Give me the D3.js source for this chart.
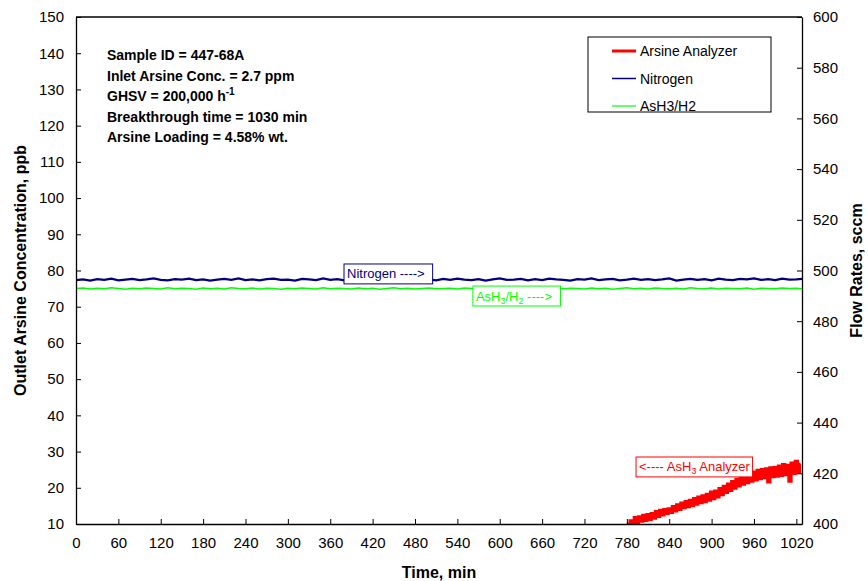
<!DOCTYPE html>
<html lang="en">
<head>
<meta charset="UTF-8">
<title>Arsine breakthrough</title>
<script src="https://d3js.org/d3.v7.min.js"></script>
<style>
  body { margin: 0; background: #fff; }
  svg text { font-family: "Liberation Sans", Arial, sans-serif; }
</style>
</head>
<body>
<div id="chart"></div>
<script>
// ---- data ----
const xTicks = [0, 60, 120, 180, 240, 300, 360, 420, 480, 540, 600, 660, 720, 780, 840, 900, 960, 1020];
const leftTicks = [10, 20, 30, 40, 50, 60, 70, 80, 90, 100, 110, 120, 130, 140, 150];
const rightTicks = [400, 420, 440, 460, 480, 500, 520, 540, 560, 580, 600];

// flow series sampled every 10 min (last point at 1028 min)
const flowStart = 0, flowStep = 10;
const nitrogen = [
  496.2, 496.5, 496.0, 496.6, 496.3, 496.8, 496.1, 496.4, 496.7, 496.2,
  496.5, 496.9, 496.3, 496.1, 496.6, 496.4, 496.8, 496.2, 496.5, 496.0,
  496.4, 496.7, 496.3, 496.9, 496.2, 496.5, 496.1, 496.6, 496.8, 496.3,
  496.4, 496.0, 496.7, 496.5, 496.2, 496.9, 496.3, 496.6, 496.1, 496.4,
  496.8, 496.2, 496.5, 496.3, 496.7, 496.0, 496.4, 496.6, 496.9, 496.2,
  496.5, 496.1, 496.7, 496.3, 496.8, 496.4, 496.2, 496.6, 496.0, 496.5,
  496.9, 496.3, 496.4, 496.7, 496.1, 496.6, 496.2, 496.8, 496.5, 496.3,
  496.0, 496.6, 496.4, 496.9, 496.2, 496.5, 496.7, 496.1, 496.4, 496.8,
  496.3, 496.6, 496.2, 496.5, 496.9, 496.0, 496.4, 496.7, 496.3, 496.6,
  496.1, 496.8, 496.4, 496.2, 496.7, 496.5, 496.9, 496.3, 496.6, 496.2,
  496.8, 496.4, 496.5, 496.7
];
const ash3h2 = [
  492.9, 493.1, 492.7, 493.0, 492.8, 493.2, 492.9, 492.6, 493.0, 492.8,
  493.1, 492.9, 492.7, 493.2, 492.8, 493.0, 492.9, 492.6, 493.1, 492.8,
  493.0, 492.7, 493.2, 492.9, 492.8, 493.1, 492.7, 493.0, 492.9, 492.6,
  493.0, 492.8, 493.1, 492.9, 492.7, 493.2, 492.8, 493.0, 492.9, 492.7,
  493.1, 492.8, 493.0, 492.6, 492.9, 493.2, 492.8, 493.0, 492.7, 492.9,
  493.1, 492.8, 492.9, 493.0, 492.7, 493.1, 492.9, 492.8, 493.2, 492.7,
  493.0, 492.9, 492.6, 493.1, 492.8, 493.0, 492.9, 492.7, 493.2, 492.8,
  493.0, 492.9, 492.7, 493.1, 492.8, 493.0, 492.6, 492.9, 493.2, 492.8,
  493.0, 492.7, 493.1, 492.9, 492.8, 493.0, 492.7, 493.2, 492.9, 492.8,
  493.1, 492.7, 493.0, 492.9, 492.8, 493.1, 492.6, 493.0, 492.9, 492.8,
  493.1, 492.9, 493.0, 492.8
];

// arsine analyzer (ppb) every 3 min from 780 min
const arsineStart = 780, arsineStep = 3;
const arsine = [
  10.0, 9.8, 10.9, 10.2, 11.8, 10.4, 12.0, 10.8, 12.4, 11.0,
  12.6, 11.3, 12.9, 11.6, 13.4, 12.1, 13.8, 12.5, 14.0, 12.9,
  14.2, 13.2, 14.8, 13.6, 15.3, 14.0, 15.8, 14.5, 16.2, 14.8,
  16.5, 15.1, 17.0, 15.5, 17.4, 15.9, 17.8, 16.2, 18.2, 16.6,
  18.8, 17.0, 19.1, 17.5, 19.8, 18.1, 20.4, 18.7, 21.0, 19.3,
  21.7, 19.9, 22.3, 20.5, 23.0, 21.0, 23.5, 21.4, 24.0, 21.8,
  24.3, 22.2, 24.8, 22.5, 25.0, 22.8, 25.2, 21.6, 25.5, 23.1,
  25.6, 23.2, 26.0, 23.4, 26.4, 23.6, 26.2, 21.8, 26.8, 24.0,
  27.3, 24.4, 26.5
];

const infoLines = ["Sample ID = 447-68A", "Inlet Arsine Conc. = 2.7 ppm", "GHSV = 200,000 h", "Breakthrough time = 1030 min", "Arsine Loading = 4.58% wt."];
const legendNames = ["Arsine Analyzer", "Nitrogen", "AsH3/H2"];
const colors = { arsine: "#ff0000", nitrogen: "#000080", ash3: "#00ff00" };

// ---- layout ----
const width = 868, height = 581;
const plot = { left: 76, right: 802, top: 17, bottom: 524 };

const svg = d3.select("#chart").append("svg")
  .attr("width", width)
  .attr("height", height);

const x = d3.scaleLinear().domain([0, 1028]).range([plot.left, plot.right]);
const yL = d3.scaleLinear().domain([10, 150]).range([plot.bottom, plot.top]);
const yR = d3.scaleLinear().domain([400, 600]).range([plot.bottom, plot.top]);

const nitrogenPts = nitrogen.map((v, i) => [Math.min(flowStart + i * flowStep, 1028), v]);
const ash3Pts = ash3h2.map((v, i) => [Math.min(flowStart + i * flowStep, 1028), v]);
const arsinePts = arsine.map((v, i) => [arsineStart + i * arsineStep, v]);

svg.append("clipPath").attr("id", "clip")
  .append("rect")
  .attr("x", plot.left).attr("y", plot.top)
  .attr("width", plot.right - plot.left).attr("height", plot.bottom - plot.top);

const flowLine = d3.line().x(d => x(d[0])).y(d => yR(d[1]));
const ppbLine = d3.line().x(d => x(d[0])).y(d => yL(d[1])).curve(d3.curveStep);

const g = svg.append("g").attr("clip-path", "url(#clip)");
g.append("path").datum(ash3Pts)
  .attr("fill", "none").attr("stroke", colors.ash3).attr("stroke-width", 1.6)
  .attr("d", flowLine);
g.append("path").datum(nitrogenPts)
  .attr("fill", "none").attr("stroke", colors.nitrogen).attr("stroke-width", 2.2)
  .attr("d", flowLine);
g.append("path").datum(arsinePts)
  .attr("fill", "none").attr("stroke", colors.arsine).attr("stroke-width", 3.2)
  .attr("d", ppbLine);

// ---- axes ----
const axisFont = "15px";
const xAxis = svg.append("g")
  .attr("transform", `translate(0,${plot.bottom})`)
  .call(d3.axisBottom(x).tickValues(xTicks).tickFormat(d3.format("d"))
    .tickSizeInner(-5).tickSizeOuter(0).tickPadding(13));
const lAxis = svg.append("g")
  .attr("transform", `translate(${plot.left},0)`)
  .call(d3.axisLeft(yL).tickValues(leftTicks).tickSizeInner(-5).tickSizeOuter(0).tickPadding(12));
const rAxis = svg.append("g")
  .attr("transform", `translate(${plot.right},0)`)
  .call(d3.axisRight(yR).tickValues(rightTicks).tickSizeInner(-5).tickSizeOuter(0).tickPadding(11));

[xAxis, lAxis, rAxis].forEach(a => {
  a.selectAll("text").attr("fill", "#000").style("font-size", axisFont)
    .style("font-family", "'Liberation Sans', Arial, sans-serif");
  a.selectAll("line").attr("stroke", "#000");
  a.select(".domain").attr("stroke", "#000").attr("stroke-width", 1.3);
});

// top border
svg.append("line")
  .attr("x1", plot.left).attr("x2", plot.right)
  .attr("y1", plot.top).attr("y2", plot.top)
  .attr("stroke", "#000").attr("stroke-width", 1.3);

// axis titles
svg.append("text")
  .attr("transform", `translate(26,${(plot.top + plot.bottom) / 2}) rotate(-90)`)
  .attr("text-anchor", "middle")
  .style("font-size", "16px").style("font-weight", "bold")
  .text("Outlet Arsine Concentration, ppb");
svg.append("text")
  .attr("transform", `translate(862,${(plot.top + plot.bottom) / 2}) rotate(-90)`)
  .attr("text-anchor", "middle")
  .style("font-size", "16px").style("font-weight", "bold")
  .text("Flow Rates, sccm");
svg.append("text")
  .attr("x", (plot.left + plot.right) / 2).attr("y", 578)
  .attr("text-anchor", "middle")
  .style("font-size", "16px").style("font-weight", "bold")
  .text("Time, min");

// ---- info block ----
const info = svg.append("g");
infoLines.forEach((t, i) => {
  const tx = info.append("text")
    .attr("x", 107).attr("y", 60 + i * 20.5)
    .style("font-size", "14px").style("font-weight", "bold")
    .text(t);
  if (i === 2) {
    tx.append("tspan").attr("dy", -6).style("font-size", "10px").text("-1");
  }
});

// ---- legend ----
const leg = svg.append("g");
leg.append("rect")
  .attr("x", 588).attr("y", 37).attr("width", 183).attr("height", 75)
  .attr("fill", "#fff").attr("stroke", "#000").attr("stroke-width", 1);
const legColors = [colors.arsine, colors.nitrogen, colors.ash3];
const legWidths = [3, 1.5, 1.2];
legendNames.forEach((n, i) => {
  const yy = 51 + i * 27.5;
  leg.append("line")
    .attr("x1", 612).attr("x2", 636).attr("y1", yy).attr("y2", yy)
    .attr("stroke", legColors[i]).attr("stroke-width", legWidths[i]);
  leg.append("text")
    .attr("x", 640).attr("y", yy + 5)
    .style("font-size", "14px")
    .text(n);
});

// ---- in-plot labels ----
function tagBox(x0, x1, v0, v1, color, parts) {
  const bx = x(x0), bw = x(x1) - x(x0);
  const by = yL(v0), bh = yL(v1) - yL(v0);
  svg.append("rect")
    .attr("x", bx).attr("y", by).attr("width", bw).attr("height", bh)
    .attr("fill", "#fff").attr("stroke", color).attr("stroke-width", 1);
  const t = svg.append("text")
    .attr("x", bx + 3).attr("y", by + bh / 2 + 4.5)
    .attr("fill", color)
    .style("font-size", "13px");
  let shift = 0;
  parts.forEach(p => {
    if (p.sub) {
      t.append("tspan").attr("dy", 3 - shift).style("font-size", "9px").text(p.sub);
      shift = 3;
    } else {
      t.append("tspan").attr("dy", -shift).text(p.t);
      shift = 0;
    }
  });
}
tagBox(379.5, 505, 81.8, 76.3, colors.nitrogen, [{ t: "Nitrogen ---->" }]);
tagBox(562, 686, 75.7, 70.2, colors.ash3, [{ t: "AsH" }, { sub: "3" }, { t: "/H" }, { sub: "2" }, { t: " ---->" }]);
tagBox(793, 958, 28.5, 23.0, colors.arsine, [{ t: "<---- AsH" }, { sub: "3" }, { t: " Analyzer" }]);
</script>
</body>
</html>
